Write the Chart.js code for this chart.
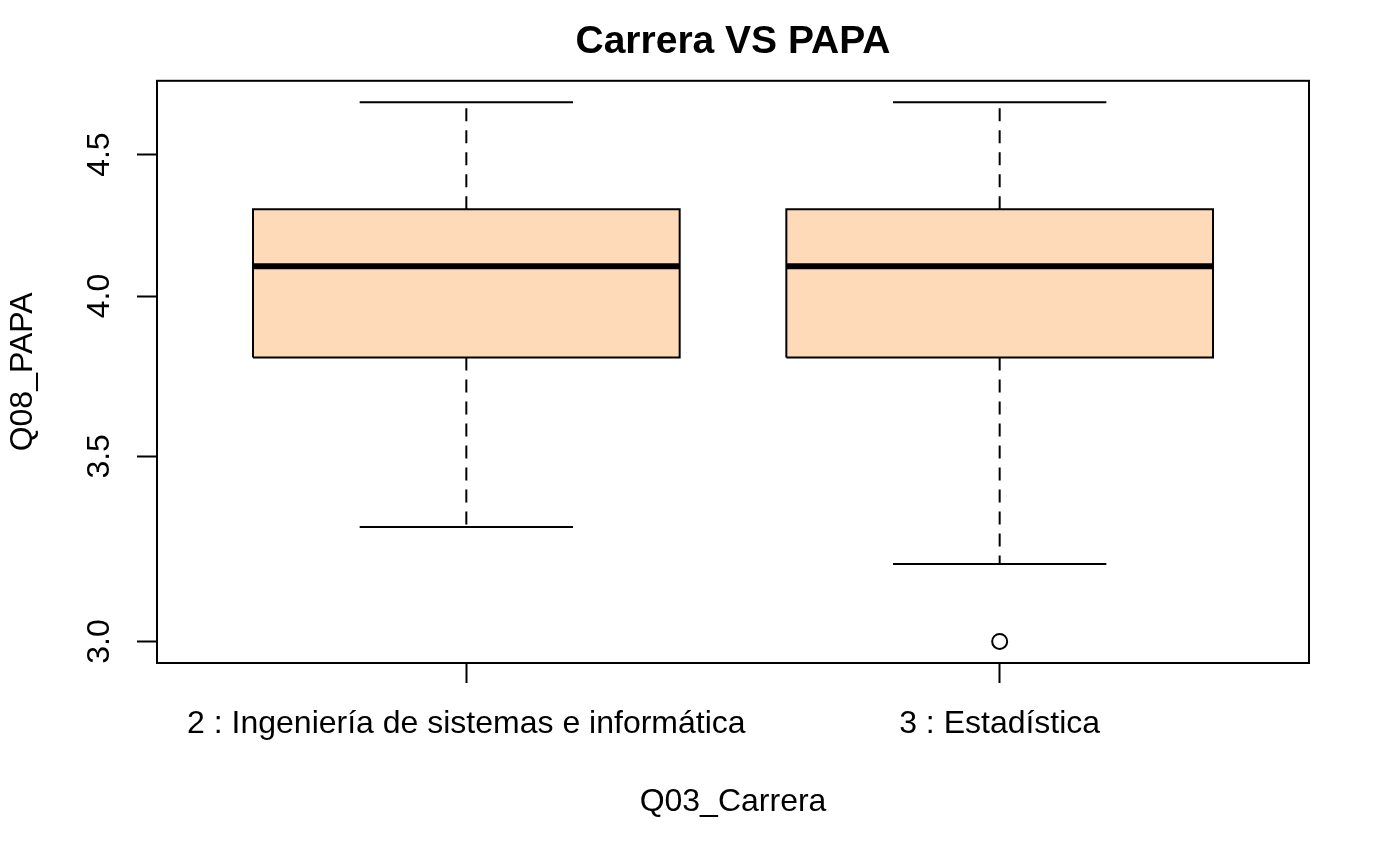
<!DOCTYPE html>
<html>
<head>
<meta charset="utf-8">
<script src="https://cdn.jsdelivr.net/npm/chart.js@4/dist/chart.umd.min.js"></script>
<style>
  html, body { margin: 0; padding: 0; background: #fff; }
  canvas { display: block; }
</style>
</head>
<body>
<canvas id="c" width="1390" height="859"></canvas>
<script>
// ---- data ----
const categories   = ['2 : Ingeniería de sistemas e informática', '3 : Estadística'];
const whiskerLow   = [3.3, 3.2];
const q1           = [3.8, 3.8];
const median       = [4.1, 4.1];
const q3           = [4.3, 4.3];
const whiskerHigh  = [4.7, 4.7];
const outliers     = [[], [3.0]];
const yTicks       = [3.0, 3.5, 4.0, 4.5];
const chartTitle   = 'Carrera VS PAPA';
const xTitle       = 'Q03_Carrera';
const yTitle       = 'Q08_PAPA';

// ---- styling ----
const FONT = 'Liberation Sans, Arial, Helvetica, sans-serif';
const BOX_FILL = '#FFDAB9';
const BOX_HALF = 0.4, CAP_HALF = 0.2;

// axis limits like R (log axis, 4% extension)
const allVals = whiskerLow.concat(whiskerHigh, ...outliers);
const lnLo = Math.log(Math.min(...allVals)), lnHi = Math.log(Math.max(...allVals));
const ext = (lnHi - lnLo) * 0.04;
const yMin = Math.exp(lnLo - ext), yMax = Math.exp(lnHi + ext);
const xMin = 0.5 - 0.04 * categories.length, xMax = categories.length + 0.5 + 0.04 * categories.length;

function seg(points, extra) {
  return Object.assign({
    type: 'line', data: points, borderColor: '#000', borderWidth: 2,
    pointRadius: 0, fill: false, tension: 0
  }, extra || {});
}

const datasets = [];
categories.forEach((cat, i) => {
  const g = i + 1;
  // box fill
  datasets.push(seg([{x: g - BOX_HALF, y: q3[i]}, {x: g + BOX_HALF, y: q3[i]}],
    {borderWidth: 0, borderColor: 'rgba(0,0,0,0)', fill: {value: q1[i]}, backgroundColor: BOX_FILL, order: 10}));
  // whiskers (dashed)
  datasets.push(seg([{x: g, y: q3[i]}, {x: g, y: whiskerHigh[i]}], {borderDash: [13, 9], order: 8}));
  datasets.push(seg([{x: g, y: q1[i]}, {x: g, y: whiskerLow[i]}], {borderDash: [13, 9], order: 8}));
  // staples
  datasets.push(seg([{x: g - CAP_HALF, y: whiskerHigh[i]}, {x: g + CAP_HALF, y: whiskerHigh[i]}], {order: 7}));
  datasets.push(seg([{x: g - CAP_HALF, y: whiskerLow[i]}, {x: g + CAP_HALF, y: whiskerLow[i]}], {order: 7}));
  // box outline
  datasets.push(seg([
    {x: g - BOX_HALF, y: q1[i]}, {x: g + BOX_HALF, y: q1[i]},
    {x: g + BOX_HALF, y: q3[i]}, {x: g - BOX_HALF, y: q3[i]},
    {x: g - BOX_HALF, y: q1[i]}], {order: 5, borderJoinStyle: 'miter'}));
  // median
  datasets.push(seg([{x: g - BOX_HALF, y: median[i]}, {x: g + BOX_HALF, y: median[i]}], {borderWidth: 6, order: 2}));
  // outliers
  if (outliers[i].length) {
    datasets.push({
      type: 'line', showLine: false,
      data: outliers[i].map(v => ({x: g, y: v})),
      pointRadius: 7.5, pointBorderWidth: 2, pointBorderColor: '#000',
      pointBackgroundColor: 'rgba(0,0,0,0)', order: 1
    });
  }
});

const framePlugin = {
  id: 'frame',
  afterDatasetsDraw(chart) {
    const {ctx, chartArea: {left, top, right, bottom}} = chart;
    ctx.save();
    ctx.strokeStyle = '#000';
    ctx.lineWidth = 2;
    ctx.strokeRect(left, top, right - left, bottom - top);
    ctx.restore();
  }
};

Chart.defaults.font.family = FONT;
Chart.defaults.color = '#000';

new Chart(document.getElementById('c'), {
  type: 'line',
  data: { datasets },
  plugins: [framePlugin],
  options: {
    responsive: false,
    devicePixelRatio: 1,
    animation: false,
    events: [],
    layout: { padding: { left: 0, right: 81, top: 0, bottom: 0 } },
    plugins: {
      legend: { display: false },
      tooltip: { enabled: false },
      title: {
        display: true, text: chartTitle, color: '#000', fullSize: false,
        font: { family: FONT, size: 39, weight: 'bold', lineHeight: 1.2 },
        padding: { top: 19, bottom: 15 }
      }
    },
    scales: {
      x: {
        type: 'linear', min: xMin, max: xMax, bounds: 'data',
        afterBuildTicks: s => { s.ticks = categories.map((c, i) => ({ value: i + 1 })); },
        afterFit: s => { s.height = 196; },
        ticks: {
          autoSkip: false, minRotation: 0, maxRotation: 0, padding: 22, color: '#000',
          font: { size: 32, lineHeight: 1.2 },
          callback: (v, idx) => categories[idx]
        },
        grid: { drawOnChartArea: false, drawTicks: true, tickLength: 20, tickWidth: 2, tickColor: '#000' },
        border: { display: false },
        title: { display: true, text: xTitle, color: '#000', font: { size: 32, lineHeight: 1.2 }, padding: { top: 0, bottom: 38 } }
      },
      y: {
        type: 'logarithmic', min: yMin, max: yMax, bounds: 'data',
        afterBuildTicks: s => { s.ticks = yTicks.map(v => ({ value: v })); },
        afterFit: s => { s.width = 157; },
        ticks: {
          autoSkip: false, minRotation: 90, maxRotation: 90, crossAlign: 'center', padding: 15, color: '#000',
          font: { size: 32, lineHeight: 1.2 },
          callback: v => Number(v).toFixed(1)
        },
        grid: { drawOnChartArea: false, drawTicks: true, tickLength: 20, tickWidth: 2, tickColor: '#000' },
        border: { display: false },
        title: { display: true, text: yTitle, color: '#000', font: { size: 32, lineHeight: 1.2 }, padding: { top: 4, bottom: 0 } }
      }
    }
  }
});
</script>
</body>
</html>
